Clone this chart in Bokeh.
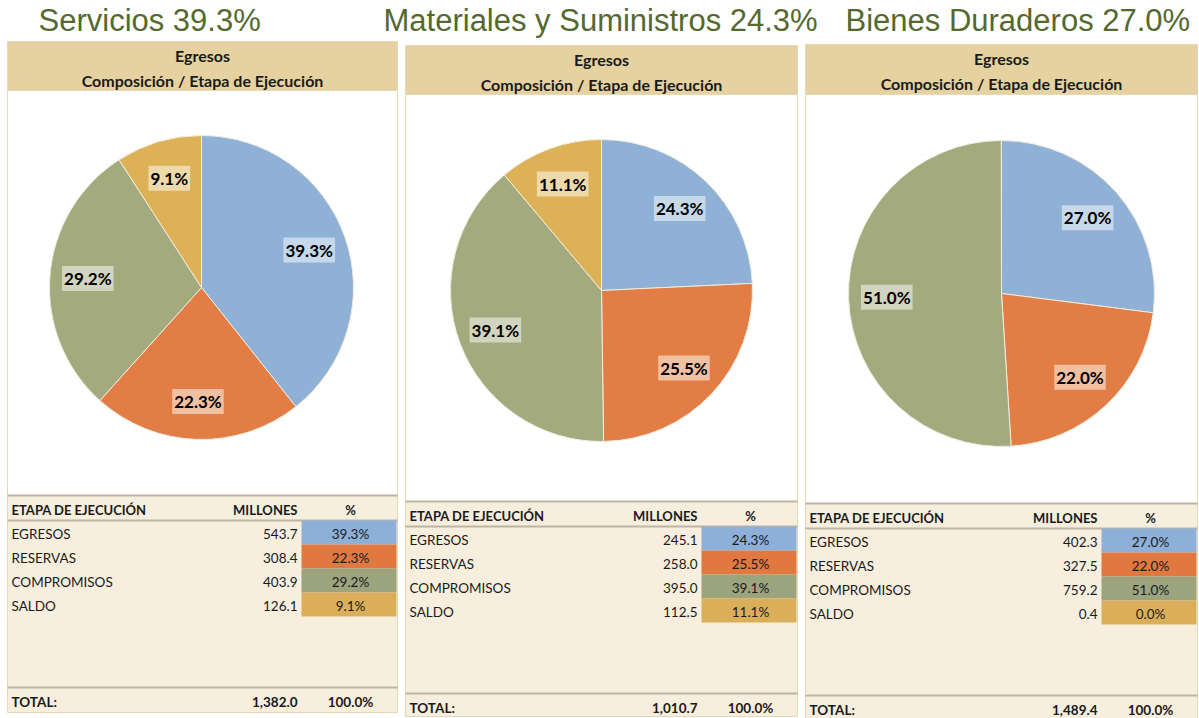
import math
from bokeh.plotting import figure
from bokeh.models import Range1d, ColumnDataSource
from bokeh.core.properties import value
from bokeh.embed import file_html
from bokeh.resources import INLINE

# ---------------- data ----------------
titles = ["Servicios 39.3%", "Materiales y Suministros 24.3%", "Bienes Duraderos 27.0%"]
header_line1 = "Egresos"
header_line2 = "Composición / Etapa de Ejecución"
col_headers = ["ETAPA DE EJECUCIÓN", "MILLONES", "%"]
etapas = ["EGRESOS", "RESERVAS", "COMPROMISOS", "SALDO"]

millones_servicios = [543.7, 308.4, 403.9, 126.1]
pct_servicios = [39.3, 22.3, 29.2, 9.1]
total_servicios = "1,382.0"

millones_materiales = [245.1, 258.0, 395.0, 112.5]
pct_materiales = [24.3, 25.5, 39.1, 11.1]
total_materiales = "1,010.7"

millones_bienes = [402.3, 327.5, 759.2, 0.4]
pct_bienes = [27.0, 22.0, 51.0, 0.0]
total_bienes = "1,489.4"

total_pct = "100.0%"

# ---------------- styles ----------------
slice_colors = ["#8FB1D6", "#E27E45", "#A3AB7E", "#DDB257"]
cell_colors = ["#8DB0D8", "#E0783F", "#9CA47E", "#DBAF5A"]
header_bg = "#E6D2A0"
table_bg = "#F7EEDD"
border_col = "#E8D9B6"
sep_col = "#BDB5A4"
title_col = "#55692F"
txt_col = "#1A1A1A"
FONT = "Lato"

series = [
    (millones_servicios, pct_servicios, total_servicios),
    (millones_materiales, pct_materiales, total_materiales),
    (millones_bienes, pct_bienes, total_bienes),
]

# layout of panels (image pixel coordinates)
panels = [
    dict(x0=7, x1=397, ht=41, hb=90, tt=495, bot=712, cx=201, cy=287, r=152, tx=38),
    dict(x0=405, x1=797, ht=45, hb=94, tt=501, bot=716, cx=601, cy=290, r=151, tx=383),
    dict(x0=805, x1=1197, ht=44, hb=94, tt=503, bot=718, cx=1001, cy=293, r=153, tx=845),
]

W_IMG = 1199
H_IMG = 718


def Y(v):
    return H_IMG - v


p = figure(width=W_IMG, height=H_IMG, x_range=Range1d(0, W_IMG), y_range=Range1d(0, H_IMG),
           output_backend="svg", toolbar_location=None, min_border=0)
p.axis.visible = False
p.grid.visible = False
p.outline_line_color = None
p.background_fill_color = "white"
p.border_fill_color = "white"

for k, (pan, (mill, pct, tot)) in enumerate(zip(panels, series)):
    x0, x1 = pan["x0"], pan["x1"]
    xc = (x0 + x1) / 2
    # title
    p.text(x=[pan["tx"]], y=[Y(20)], text=[titles[k]], text_font=value("Liberation Sans"),
           text_font_size="31px", text_color=title_col, text_align="left", text_baseline="middle")
    # header box
    p.quad(left=[x0], right=[x1], top=[Y(pan["ht"])], bottom=[Y(pan["hb"])],
           fill_color=header_bg, line_color=border_col, line_width=1)
    p.text(x=[xc, xc], y=[Y(pan["ht"] + 14), Y(pan["ht"] + 39)], text=[header_line1, header_line2],
           text_font=value(FONT), text_font_style="bold", text_font_size="16px", text_color=txt_col,
           text_align="center", text_baseline="middle")
    # white pie area
    p.quad(left=[x0], right=[x1], top=[Y(pan["hb"])], bottom=[Y(pan["tt"])],
           fill_color="white", line_color=border_col, line_width=1)
    # table area
    p.quad(left=[x0], right=[x1], top=[Y(pan["tt"])], bottom=[Y(pan["bot"])],
           fill_color=table_bg, line_color=border_col, line_width=1)

    # pie
    total = sum(mill)
    cum = 0.0
    starts, ends, cols, lx, ly, lt = [], [], [], [], [], []
    for i, m in enumerate(mill):
        frac = m / total
        a0 = math.pi / 2 - cum * 2 * math.pi
        a1 = math.pi / 2 - (cum + frac) * 2 * math.pi
        mid = (a0 + a1) / 2
        if frac > 0.001:
            starts.append(a0)
            ends.append(a1)
            cols.append(slice_colors[i])
        if pct[i] > 0:
            lx.append(pan["cx"] + 0.75 * pan["r"] * math.cos(mid))
            ly.append(Y(pan["cy"]) + 0.75 * pan["r"] * math.sin(mid))
            lt.append(f"{pct[i]:.1f}%")
        cum += frac
    src = ColumnDataSource(dict(x=[pan["cx"]] * len(starts), y=[Y(pan["cy"])] * len(starts),
                                s=starts, e=ends, c=cols))
    p.wedge(x="x", y="y", radius=pan["r"], start_angle="s", end_angle="e", direction="clock",
            fill_color="c", line_color="#F2EBDD", line_width=1, source=src)
    p.text(x=lx, y=ly, text=lt, text_font=value(FONT), text_font_style="bold", text_font_size="17px",
           text_color="black", text_align="center", text_baseline="middle",
           background_fill_color="white", background_fill_alpha=0.5, padding=2)

    # table
    tt = pan["tt"]
    num_x = x1 - 100
    pct_x = x1 - 47
    lab_x = x0 + 4
    # separator lines
    for yy in (tt, tt + 25, tt + 192):
        p.line(x=[x0, x1], y=[Y(yy), Y(yy)], line_color=sep_col, line_width=2)
    # column headers
    hy = Y(tt + 14)
    p.text(x=[lab_x], y=[hy], text=[col_headers[0]], text_font=value(FONT), text_font_style="bold",
           text_font_size="13px", text_color=txt_col, text_align="left", text_baseline="middle")
    p.text(x=[num_x], y=[hy], text=[col_headers[1]], text_font=value(FONT), text_font_style="bold",
           text_font_size="13px", text_color=txt_col, text_align="right", text_baseline="middle")
    p.text(x=[pct_x], y=[hy], text=[col_headers[2]], text_font=value(FONT), text_font_style="bold",
           text_font_size="13px", text_color=txt_col, text_align="center", text_baseline="middle")
    # colored cells
    tops = [Y(tt + 25 + 24 * i) for i in range(4)]
    bots = [Y(tt + 25 + 24 * (i + 1)) for i in range(4)]
    p.quad(left=[x1 - 96] * 4, right=[x1 - 1] * 4, top=tops, bottom=bots,
           fill_color=cell_colors, line_color=None)
    rows_y = [Y(tt + 38 + 24 * i) for i in range(4)]
    p.text(x=[lab_x] * 4, y=rows_y, text=etapas, text_font=value(FONT), text_font_size="13.5px",
           text_color=txt_col, text_align="left", text_baseline="middle")
    p.text(x=[num_x] * 4, y=rows_y, text=[f"{m:.1f}" for m in mill], text_font=value(FONT),
           text_font_size="13.5px", text_color=txt_col, text_align="right", text_baseline="middle")
    p.text(x=[pct_x] * 4, y=rows_y, text=[f"{v:.1f}%" for v in pct], text_font=value(FONT),
           text_font_size="13.5px", text_color=txt_col, text_align="center", text_baseline="middle")
    # total
    ty = Y(tt + 206)
    p.text(x=[lab_x], y=[ty], text=["TOTAL:"], text_font=value(FONT), text_font_style="bold",
           text_font_size="13.5px", text_color=txt_col, text_align="left", text_baseline="middle")
    p.text(x=[num_x], y=[ty], text=[tot], text_font=value(FONT), text_font_style="bold",
           text_font_size="13.5px", text_color=txt_col, text_align="right", text_baseline="middle")
    p.text(x=[pct_x], y=[ty], text=[total_pct], text_font=value(FONT), text_font_style="bold",
           text_font_size="13.5px", text_color=txt_col, text_align="center", text_baseline="middle")

open("out.html", "w").write(file_html(p, INLINE))
